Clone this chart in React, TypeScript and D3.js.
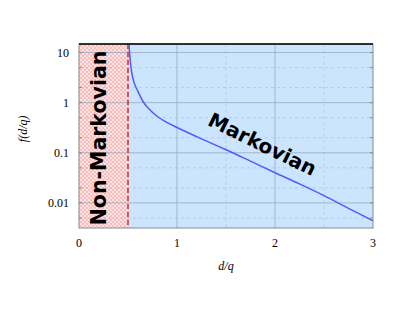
import React from 'react';
import * as d3 from 'd3';

// curve: d/q and f(d/q)
const dq = [0.51, 0.52, 0.53, 0.54, 0.56, 0.58, 0.6, 0.65, 0.7, 0.8, 0.9, 1.0, 1.25, 1.5, 1.75, 2.0, 2.25, 2.5, 2.75, 3.0];
const fdq = [14.8, 8, 5.2, 3.8, 2.6, 2.05, 1.7, 1.08, 0.8, 0.53, 0.4, 0.32, 0.19, 0.115, 0.068, 0.04, 0.024, 0.014, 0.0078, 0.0044];

const xTicks = [0, 1, 2, 3];
const xMinor = [0.5, 1.5, 2.5];
const yTicks = [10, 1, 0.1, 0.01];
const yTickLabels = ['10', '1', '0.1', '0.01'];
const yMinor = [5, 2, 0.5, 0.2, 0.05, 0.02, 0.005];
const boundary = 0.5;

const App = () => {
    const margin = { top: 44, right: 38, bottom: 81, left: 79 };
    const W = 411, H = 309;
    const width = W - margin.left - margin.right;
    const height = H - margin.top - margin.bottom;

    const x = d3.scaleLinear().domain([0, 3]).range([0, width]);
    const y = d3.scaleLog().domain([0.00316, 14.8]).range([height, 0]);

    const pts = dq.map((d, i) => [d, fdq[i]] as [number, number]);
    const line = d3.line<[number, number]>()
        .x(d => x(d[0]))
        .y(d => y(d[1]))
        .curve(d3.curveCatmullRom);

    const serif = '"Liberation Serif", "DejaVu Serif", serif';
    const sans = '"DejaVu Sans", sans-serif';

    return (
        <svg width={W} height={H} style={{ position: 'absolute', left: 0, top: 0 }}>
            <defs>
                <pattern id="hatch" width="4" height="4" patternUnits="userSpaceOnUse">
                    <rect width="4" height="4" fill="#fde2e2" />
                    <path d="M0,0 L4,4 M4,0 L0,4" stroke="#f5a5a5" strokeWidth="0.6" />
                </pattern>
                <clipPath id="plot">
                    <rect width={width} height={height} />
                </clipPath>
            </defs>
            <g transform={`translate(${margin.left},${margin.top})`}>
                <rect x={0} y={0} width={x(boundary)} height={height} fill="url(#hatch)" />
                <rect x={x(boundary)} y={0} width={width - x(boundary)} height={height} fill="#cce5ff" />

                {/* grid */}
                {yMinor.map(v =>
                    <line key={'ym' + v} x1={0} x2={width} y1={y(v)} y2={y(v)} stroke="#a9b9cc" strokeWidth={0.6} strokeDasharray="3,3" />
                )}
                {xMinor.map(v =>
                    <line key={'xm' + v} x1={x(v)} x2={x(v)} y1={0} y2={height} stroke="#a9b9cc" strokeWidth={0.6} strokeDasharray="3,3" />
                )}
                {yTicks.map(v =>
                    <line key={'yg' + v} x1={0} x2={width} y1={y(v)} y2={y(v)} stroke="#9eafc4" strokeWidth={0.9} />
                )}
                {xTicks.slice(1, 3).map(v =>
                    <line key={'xg' + v} x1={x(v)} x2={x(v)} y1={0} y2={height} stroke="#9eafc4" strokeWidth={0.9} />
                )}
                {/* small ticks on both sides */}
                {yMinor.concat(yTicks).map(v =>
                    <line key={'rt' + v} x1={width - 3} x2={width} y1={y(v)} y2={y(v)} stroke="#777" strokeWidth={0.8} />
                )}
                {yMinor.concat(yTicks).map(v =>
                    <line key={'lt' + v} x1={0} x2={3} y1={y(v)} y2={y(v)} stroke="#777" strokeWidth={0.8} />
                )}

                <line x1={x(boundary)} x2={x(boundary)} y1={0} y2={height} stroke="#e0202a" strokeWidth={1.5} strokeDasharray="5,3" />

                <g clipPath="url(#plot)">
                    <path d={line(pts) || ''} fill="none" stroke="#4d5cff" strokeWidth={1.5} />
                </g>

                {/* frame */}
                <rect x={0} y={0} width={width} height={height} fill="none" stroke="#888" strokeWidth={1} />
                <line x1={0} x2={width} y1={0} y2={0} stroke="#000" strokeWidth={1.3} />

                <text transform={`translate(${x(0.25) + 2.5},${height / 2 + 2}) rotate(-90)`} textAnchor="middle"
                    style={{ fontFamily: sans, fontWeight: 'bold', fontSize: '20.5px' }}>Non-Markovian</text>
                <text transform={`translate(${x(1.87) - 3},${y(0.16) + 8}) rotate(26)`} textAnchor="middle"
                    style={{ fontFamily: sans, fontWeight: 'bold', fontSize: '20px' }}>Markovian</text>

                {xTicks.map(v =>
                    <text key={'xl' + v} x={x(v)} y={height + 19} textAnchor="middle"
                        style={{ fontFamily: serif, fontSize: '12px' }}>{v}</text>
                )}
                {yTicks.map((v, i) =>
                    <text key={'yl' + v} x={-10} y={y(v) + 4} textAnchor="end"
                        style={{ fontFamily: serif, fontSize: '12px' }}>{yTickLabels[i]}</text>
                )}
                <text x={width / 2} y={height + 42} textAnchor="middle"
                    style={{ fontFamily: serif, fontStyle: 'italic', fontSize: '12px' }}>d/q</text>
                <text transform={`translate(${-52},${y(0.3)}) rotate(-90)`} textAnchor="middle"
                    style={{ fontFamily: serif, fontStyle: 'italic', fontSize: '12px' }}>f(d/q)</text>
            </g>
        </svg>
    );
};

export default App;
